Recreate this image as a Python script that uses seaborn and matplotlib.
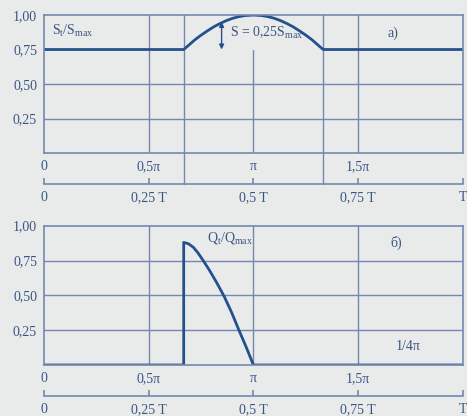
import matplotlib
matplotlib.use("Agg")
import matplotlib.pyplot as plt
import seaborn as sns

# x is the phase angle in units of pi (0 .. 2 pi = 0 .. T)
s_x = [0, 0.667, 0.69, 0.72, 0.75, 0.78, 0.81, 0.84, 0.87, 0.90, 0.93, 0.96, 1.0,
       1.04, 1.07, 1.10, 1.13, 1.16, 1.19, 1.22, 1.25, 1.28, 1.31, 1.333, 2.0]
s_y = [0.75, 0.75, 0.78, 0.82, 0.854, 0.885, 0.914, 0.938, 0.959, 0.976, 0.988, 0.996, 1.0,
       0.996, 0.988, 0.976, 0.959, 0.938, 0.914, 0.885, 0.854, 0.82, 0.78, 0.75, 0.75]

q_x = [0, 0.667, 0.667, 0.69, 0.713, 0.735, 0.76, 0.79, 0.825, 0.861, 0.895, 0.928, 0.965, 1.0, 2.0]
q_y = [0, 0, 0.88, 0.87, 0.845, 0.805, 0.75, 0.68, 0.59, 0.49, 0.38, 0.26, 0.13, 0, 0]

y_ticks = [0.25, 0.50, 0.75, 1.00]
y_labels = ["0,25", "0,50", "0,75", "1,00"]
phase_ticks = [0, 0.5, 1.0, 1.5]
phase_labels = ["0", "0,5π", "π", "1,5π"]
time_ticks = [0, 0.5, 1.0, 1.5, 2.0]
time_labels = ["0", "0,25 T", "0,5 T", "0,75 T", "T"]

BG = "#e9ebea"
TXT = "#3a5583"
GRID = "#7488af"
LINE = "#25508e"

sns.set_theme(style="white")
plt.rcParams["font.family"] = ["Liberation Serif", "DejaVu Serif"]
plt.rcParams["mathtext.fontset"] = "custom"
plt.rcParams["mathtext.rm"] = "Liberation Serif"
plt.rcParams["mathtext.it"] = "Liberation Serif"

fig = plt.figure(figsize=(4.67, 4.16), dpi=100, facecolor=BG)
ax1 = fig.add_axes([0.0942, 0.6322, 0.897, 0.3317])
ax2 = fig.add_axes([0.0942, 0.1226, 0.897, 0.3349])

SEC_POS = -0.225


def style_axes(ax):
    ax.set_facecolor(BG)
    ax.set_xlim(0, 2)
    ax.set_ylim(0, 1)
    for sp in ax.spines.values():
        sp.set_color(GRID)
        sp.set_linewidth(1.2)
    ax.set_yticks(y_ticks, y_labels)
    ax.set_xticks(phase_ticks, phase_labels)
    ax.tick_params(axis="both", length=0, colors=TXT, labelsize=10)
    ax.tick_params(axis="y", pad=5)
    ax.tick_params(axis="x", pad=5)
    ax.set_xlabel("")
    ax.set_ylabel("")
    sec = ax.secondary_xaxis(SEC_POS)
    sec.set_xticks(time_ticks, time_labels)
    sec.tick_params(direction="in", length=4, width=1.2, colors=GRID,
                    labelcolor=TXT, labelsize=10, pad=5)
    sec.spines["bottom"].set_color(GRID)
    sec.spines["bottom"].set_linewidth(1.2)


# --- top panel: S_t / S_max ---
style_axes(ax1)
for y in [0.25, 0.50]:
    ax1.axhline(y, color=GRID, lw=1)
ax1.axvline(0.5, color=GRID, lw=1)
ax1.axvline(1.5, color=GRID, lw=1)
ax1.axvline(1.0, ymin=0, ymax=0.75, color=GRID, lw=1)
for x in [0.667, 1.333]:
    ax1.axvline(x, ymin=SEC_POS, ymax=1, color=GRID, lw=1, clip_on=False)
sns.lineplot(x=s_x, y=s_y, ax=ax1, color=LINE, linewidth=2, sort=False, estimator=None)
ax1.annotate("", xy=(0.848, 0.95), xytext=(0.848, 0.75),
             arrowprops=dict(arrowstyle="<|-|>", color=LINE, lw=1, mutation_scale=7,
                             shrinkA=0, shrinkB=0))
ax1.text(0.038, 0.885, r"S$_\mathrm{t}$/S$_\mathrm{max}$", color=TXT, fontsize=10, va="center")
ax1.text(0.888, 0.87, r"S = 0,25S$_\mathrm{max}$", color=TXT, fontsize=10, va="center")
ax1.text(1.666, 0.87, "a)", color=TXT, fontsize=10, va="center", ha="center")

# --- bottom panel: Q_t / Q_max ---
style_axes(ax2)
for y in [0.25, 0.50, 0.75]:
    ax2.axhline(y, color=GRID, lw=1)
for x in [0.5, 1.0, 1.5]:
    ax2.axvline(x, color=GRID, lw=1)
sns.lineplot(x=q_x, y=q_y, ax=ax2, color=LINE, linewidth=2, sort=False, estimator=None)
ax2.text(0.777, 0.91, r"Q$_\mathrm{t}$/Q$_\mathrm{max}$", color=TXT, fontsize=10, va="center")
ax2.text(1.683, 0.875, "б)", color=TXT, fontsize=10, va="center", ha="center")
ax2.text(1.737, 0.13, "1/4π", color=TXT, fontsize=10, va="center", ha="center")

fig.savefig("out.png", dpi=100, facecolor=BG)
